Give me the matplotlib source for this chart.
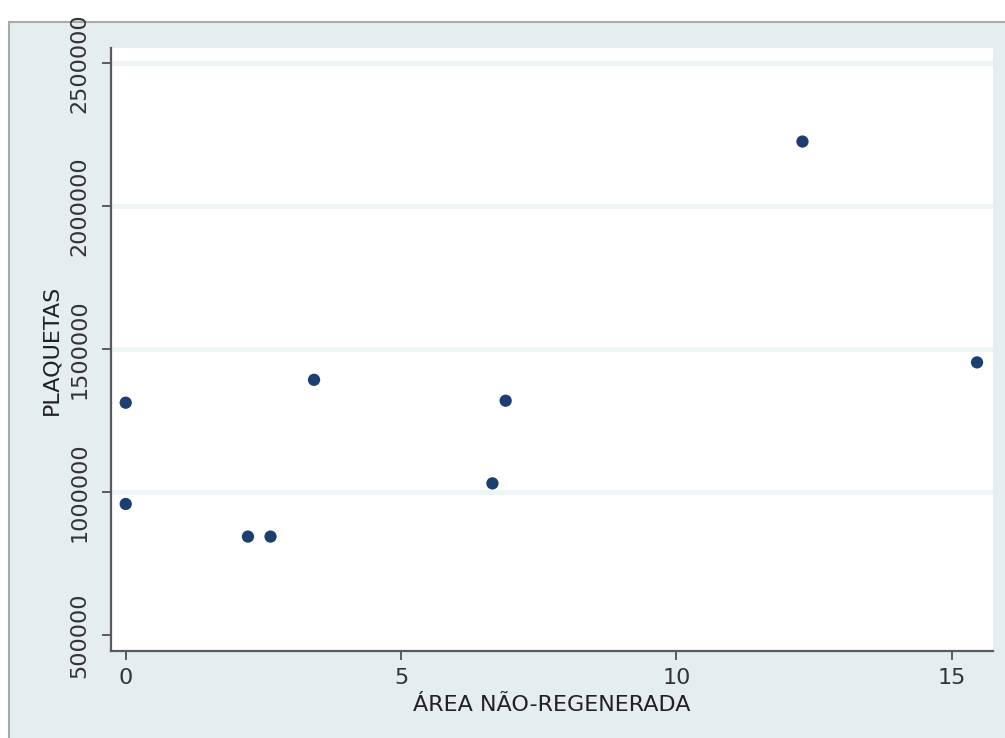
import matplotlib
matplotlib.use("Agg")
import matplotlib.pyplot as plt
from matplotlib.patches import Rectangle

# Unregenerated area vs platelet count
area = [0.0, 0.0, 2.22, 2.63, 3.42, 6.9, 6.66, 12.29, 15.46]
plaquetas = [1312000, 958000, 844000, 844000, 1392000, 1319000, 1030000, 2225000, 1453000]

x_ticks = [0, 5, 10, 15]
y_ticks = [500000, 1000000, 1500000, 2000000, 2500000]
y_tick_labels = ["500000", "1000000", "1500000", "2000000", "2500000"]

W, H = 1005, 738
fig = plt.figure(figsize=(W / 100, H / 100), dpi=100, facecolor="white")

# outer graph region with a grey frame on top and left
bg = "#E4EDF0"
frame = Rectangle((9 / W, -0.05), 1.1, (738 - 22) / H + 0.05,
                  transform=fig.transFigure, facecolor=bg,
                  edgecolor="#A9A9A9", linewidth=1.5, zorder=-10)
fig.add_artist(frame)

ax = fig.add_axes([111 / W, (H - 651) / H, (993 - 111) / W, (651 - 48) / H])
ax.set_zorder(1)
ax.set_facecolor("white")

ax.scatter(area, plaquetas, s=78, color="#1B3F6E", edgecolors="none", zorder=3)

ax.set_xlim(-0.267, 15.75)
ax.set_ylim(444000, 2552000)
ax.set_xticks(x_ticks)
ax.set_xticklabels([str(t) for t in x_ticks])
ax.set_yticks(y_ticks)
ax.set_yticklabels(y_tick_labels, rotation=90, va="center")

ax.grid(axis="y", color="#EEF5F6", linewidth=3.5, zorder=1)
ax.grid(axis="x", visible=False)
ax.yaxis.get_gridlines()[0].set_visible(False)  # no grid line at the lowest tick
ax.set_axisbelow(True)

for side in ("top", "right"):
    ax.spines[side].set_visible(False)
for side in ("left", "bottom"):
    ax.spines[side].set_color("#5A5A5A")
    ax.spines[side].set_linewidth(1.6)

ax.tick_params(axis="both", colors="#5A5A5A", length=6.5, width=1.4,
               labelsize=16, labelcolor="#333333")
ax.tick_params(axis="x", pad=6)
ax.tick_params(axis="y", pad=9)

ax.set_xlabel("ÁREA NÃO-REGENERADA", fontsize=16, color="#222222", labelpad=5)
ax.set_ylabel("PLAQUETAS", fontsize=16, color="#222222", labelpad=6)

fig.savefig("out.png", dpi=100)
